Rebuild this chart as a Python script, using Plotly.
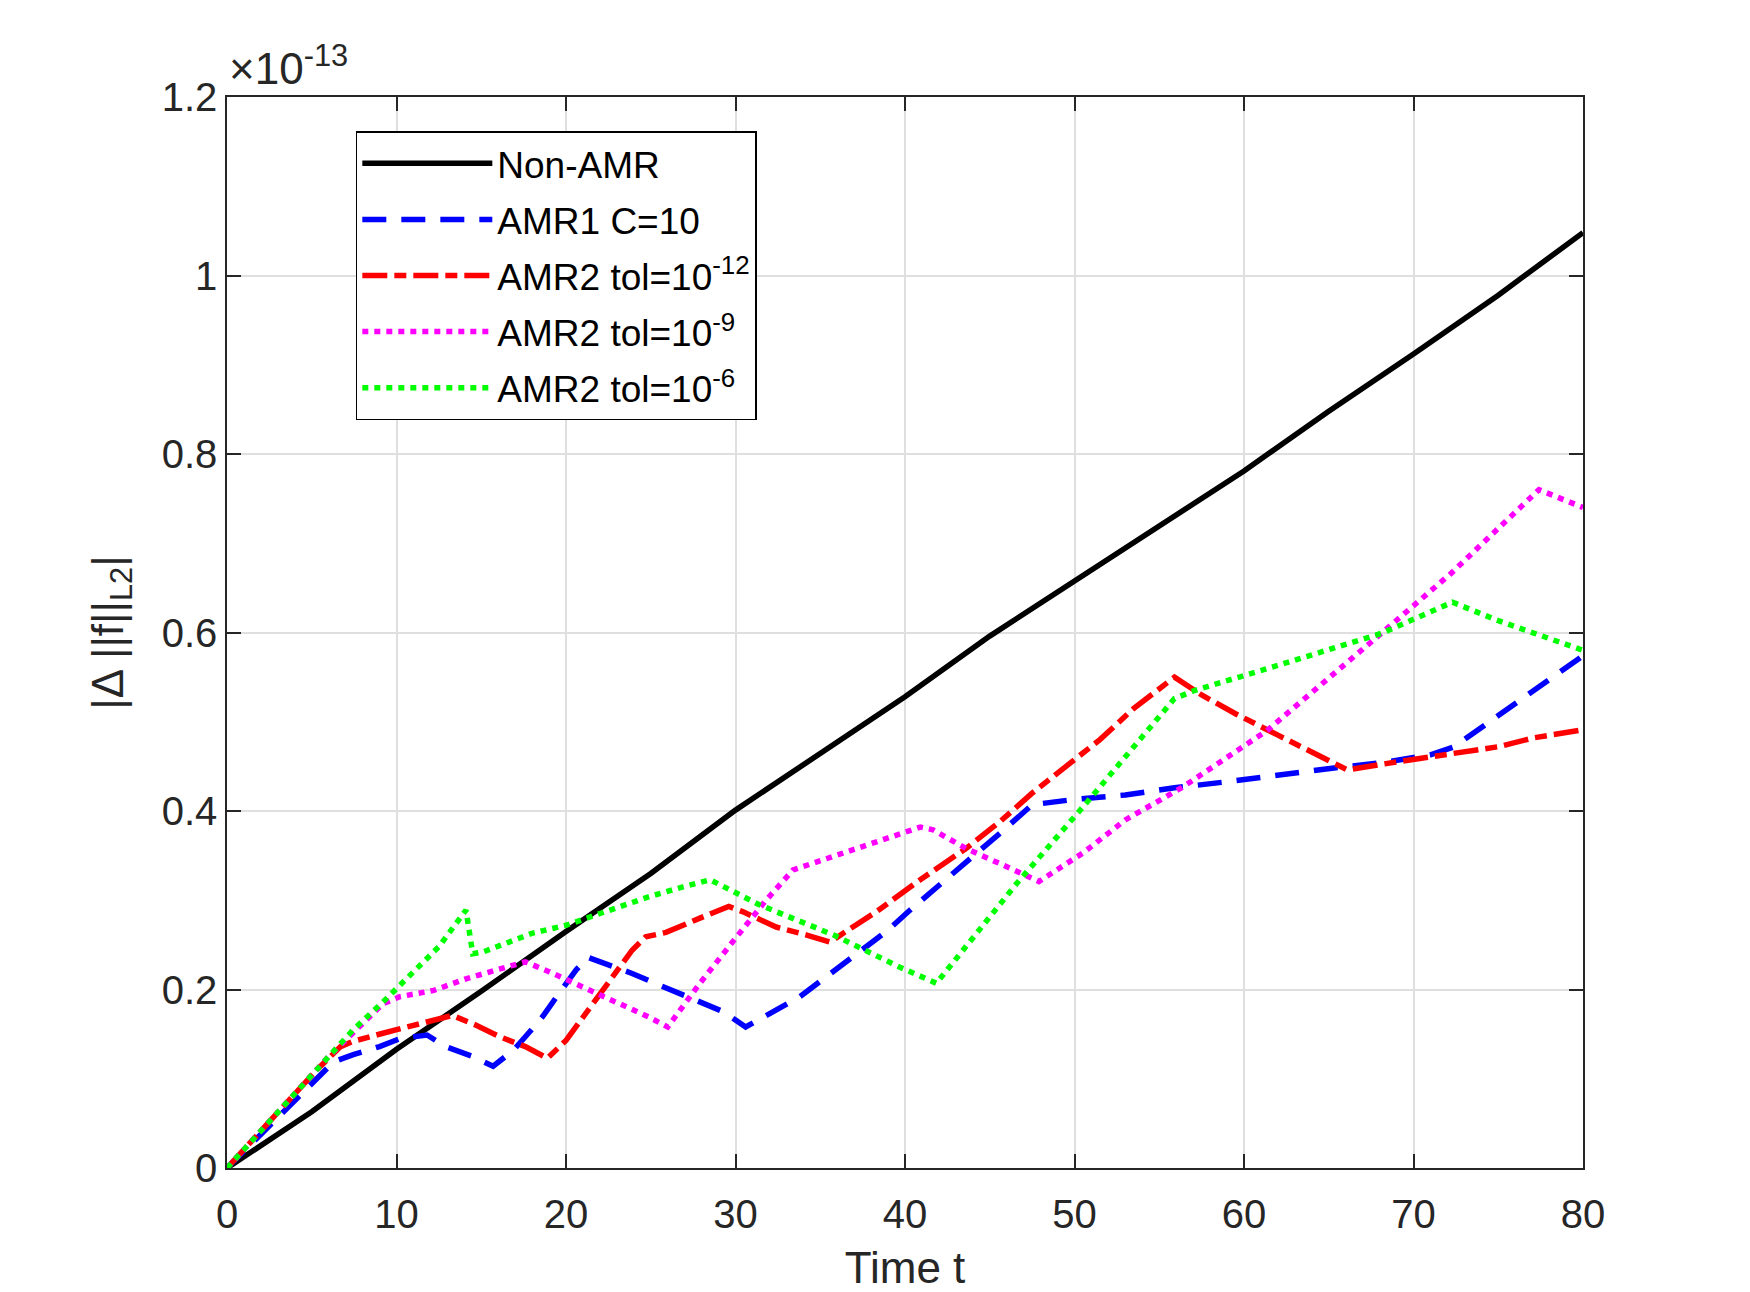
import plotly.graph_objects as go

# values in units of 1e-13
t_non = [0, 5, 10, 15, 20, 25, 30, 35, 40, 45, 50, 55, 60, 65, 70, 75, 80]
v_non = [0, 0.063, 0.133, 0.198, 0.265, 0.33, 0.401, 0.465, 0.528, 0.596, 0.658,
         0.72, 0.781, 0.848, 0.912, 0.978, 1.048]

t_amr1 = [0, 6.3, 7.45, 9.0, 10.2, 11.8, 12.9, 14.5, 15.7, 16.9, 17.6, 18.6, 19.6, 20.6,
          21.3, 22.7, 23.9, 25.5, 26.7, 28.3, 29.3, 30.6, 31.8, 33.8, 36.1, 38.9, 40.3,
          42.6, 45.6, 47.5, 50.0, 53.0, 55.9, 59.1, 61.8, 65.2, 68.1, 71.0, 72.4, 74.9,
          78.0, 80]
v_amr1 = [0, 0.119, 0.127, 0.136, 0.145, 0.149, 0.136, 0.125, 0.114, 0.132, 0.147, 0.169,
          0.196, 0.222, 0.236, 0.227, 0.218, 0.205, 0.196, 0.184, 0.175, 0.158, 0.171,
          0.192, 0.225, 0.265, 0.289, 0.326, 0.375, 0.407, 0.413, 0.418, 0.426, 0.433,
          0.44, 0.448, 0.454, 0.463, 0.472, 0.506, 0.547, 0.574]

t_tol12 = [0, 5.3, 6.7, 7.45, 9.2, 10.6, 12.2, 13.3, 14.7, 16.1, 17.6, 18.9, 20.0, 22.0,
           23.9, 24.7, 25.9, 27.9, 29.6, 30.45, 32.4, 34.2, 35.6, 36.35, 38.3, 40.9, 43.6,
           45.6, 47.5, 49.5, 51.5, 53.5, 55.9, 57.5, 59.5, 62.0, 64.97, 66.1, 69.0, 72.6,
           75.0, 77.1, 80]
v_tol12 = [0, 0.11, 0.136, 0.142, 0.151, 0.158, 0.166, 0.171, 0.16, 0.147, 0.136, 0.123,
           0.143, 0.196, 0.244, 0.259, 0.264, 0.28, 0.293, 0.287, 0.27, 0.261, 0.253, 0.263,
           0.287, 0.323, 0.358, 0.388, 0.42, 0.45, 0.48, 0.515, 0.55, 0.53, 0.509, 0.485,
           0.457, 0.446, 0.455, 0.465, 0.472, 0.482, 0.491]

t_tol9 = [0, 5.9, 9.2, 10.2, 12.2, 14.1, 16.1, 17.6, 19.0, 21.0, 22.9, 24.9, 26.0, 27.9,
          29.9, 31.8, 33.4, 35.75, 38.7, 40.9, 41.65, 43.6, 45.6, 47.9, 50.5, 53.0, 56.4,
          61.35, 68.1, 72.2, 77.4, 80]
v_tol9 = [0, 0.123, 0.184, 0.192, 0.199, 0.212, 0.223, 0.231, 0.22, 0.203, 0.186, 0.169,
          0.158, 0.207, 0.255, 0.30, 0.334, 0.349, 0.367, 0.382, 0.379, 0.358, 0.341, 0.321,
          0.353, 0.39, 0.427, 0.49, 0.599, 0.666, 0.76, 0.74]

t_tol6 = [0, 5.9, 7.45, 9.2, 11.0, 12.5, 14.1, 14.5, 15.1, 18.0, 20.0, 22.0, 24.9, 26.9,
          28.5, 31.4, 35.8, 39.7, 41.85, 46.6, 50.7, 55.9, 57.07, 61.8, 68.1, 72.3, 74.9, 80]
v_tol6 = [0, 0.123, 0.155, 0.186, 0.22, 0.248, 0.289, 0.24, 0.242, 0.263, 0.272, 0.285,
          0.304, 0.315, 0.323, 0.295, 0.261, 0.225, 0.207, 0.319, 0.409, 0.526, 0.535, 0.562,
          0.599, 0.634, 0.614, 0.58]

x_ticks = [0, 10, 20, 30, 40, 50, 60, 70, 80]
y_ticks = [0, 0.2, 0.4, 0.6, 0.8, 1.0, 1.2]
y_ticktext = ["0", "0.2", "0.4", "0.6", "0.8", "1", "1.2"]

FONT = "Liberation Sans, Arial, Helvetica, sans-serif"
TXT = "#262626"

fig = go.Figure()
series = [
    (t_non, v_non, "Non-AMR", "#000000", "solid"),
    (t_amr1, v_amr1, "AMR1 C=10", "#0000ff", "24px,15px"),
    (t_tol12, v_tol12, "AMR2 tol=10<sup>-12</sup>", "#ff0000", "25px,7px,12px,7px"),
    (t_tol9, v_tol9, "AMR2 tol=10<sup>-9</sup>", "#ff00ff", "6px,6px"),
    (t_tol6, v_tol6, "AMR2 tol=10<sup>-6</sup>", "#00ff00", "6px,6px"),
]
for i, (tx, vy, name, col, dash) in enumerate(series):
    fig.add_trace(go.Scatter(x=tx, y=vy, mode="lines", name=name, legendgroup=f"g{i}",
                             line=dict(color=col, width=5.5, dash=dash)))

axis_common = dict(showline=True, linecolor=TXT, linewidth=1.5, mirror="ticks",
                   ticks="inside", ticklen=14, tickwidth=1.5, tickcolor=TXT,
                   showgrid=True, gridcolor="#dfdfdf", gridwidth=1.5, zeroline=False,
                   automargin=False,
                   tickfont=dict(family=FONT, size=40, color=TXT))

fig.update_xaxes(range=[0, 80], tickvals=x_ticks, ticklabelstandoff=10,
                 title=dict(text="Time t", font=dict(family=FONT, size=44, color=TXT), standoff=22),
                 **axis_common)
fig.update_yaxes(range=[0, 1.2], tickvals=y_ticks, ticktext=y_ticktext,
                 title=dict(text="|Δ ||f||<sub>L2</sub>|", font=dict(family=FONT, size=44, color=TXT), standoff=24),
                 **axis_common)

fig.add_annotation(text="×10<sup>-13</sup>", xref="paper", yref="paper", x=0, y=1,
                   xanchor="left", yanchor="bottom", yshift=2, showarrow=False,
                   font=dict(family=FONT, size=44, color=TXT))

fig.update_layout(
    width=1750, height=1292,
    margin=dict(l=227, r=167, t=97, b=124),
    paper_bgcolor="white", plot_bgcolor="white",
    font=dict(family=FONT, color=TXT),
    legend=dict(x=0.095, y=0.968, xanchor="left", yanchor="top",
                bgcolor="white", bordercolor="#000000", borderwidth=1.5,
                font=dict(family=FONT, size=37, color="#000000"),
                itemwidth=130, tracegroupgap=5),
    showlegend=True,
)

fig.write_html("out.html")
